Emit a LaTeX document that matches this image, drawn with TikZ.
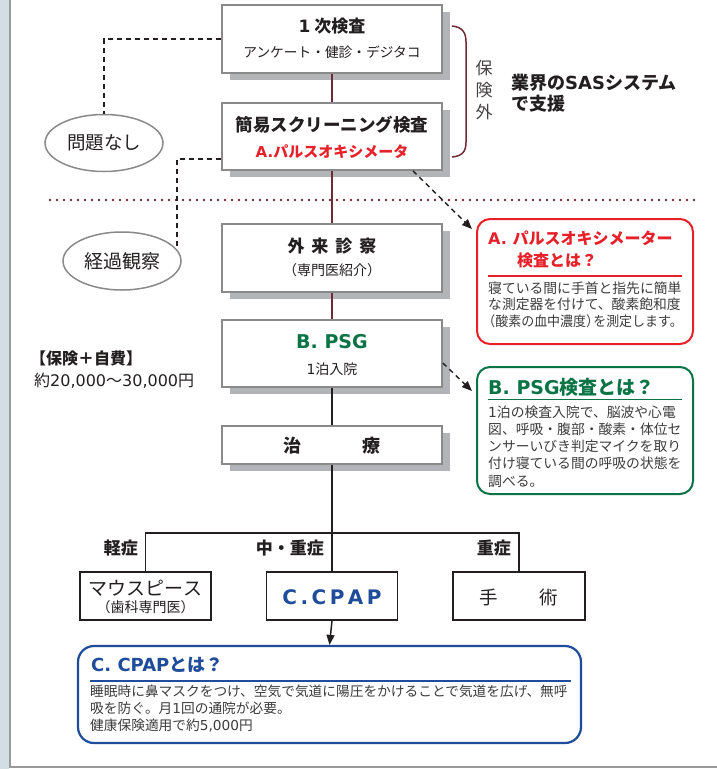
\documentclass[tikz,border=0pt]{standalone}
\usepackage{fontspec}
\setmainfont{Noto Sans CJK JP}
\newfontfamily\lat{DejaVu Sans}
\usetikzlibrary{shapes.geometric,shadows,arrows.meta}
\definecolor{ink}{HTML}{231F20}
\definecolor{boxgrey}{HTML}{8A8A8A}
\definecolor{shade}{HTML}{B2B4B7}
\definecolor{brn}{HTML}{6E2B35}
\definecolor{redA}{HTML}{E8202A}
\definecolor{grnB}{HTML}{0B7446}
\definecolor{bluC}{HTML}{1F4D9B}
\definecolor{strip}{HTML}{D2DEE4}
\definecolor{stripline}{HTML}{9A9A9A}
\definecolor{bodytxt}{HTML}{3C3C3C}
\newcommand{\fsz}[1]{\fontsize{#1}{#1}\selectfont}
\begin{document}
\begin{tikzpicture}[x=1pt,y=-1pt,
  txt/.style={inner sep=0pt, text=ink},
  body/.style={inner sep=0pt, text=bodytxt, anchor=base west, font=\fsz{13.8}},
  mainbox/.style={draw=boxgrey, line width=1.8pt, fill=white, inner sep=0pt, minimum width=220pt,
     drop shadow={shadow xshift=8pt, shadow yshift=-7pt, fill=shade, opacity=1}},
  smallbox/.style={draw=ink, line width=1.5pt, fill=white, inner sep=0pt, minimum height=48pt},
  oval/.style={ellipse, draw=boxgrey, line width=1.5pt, fill=white, inner sep=0pt,
     minimum width=118pt, minimum height=57pt, text=ink, font=\fsz{18.5}},
  infobox/.style={rounded corners=13pt, line width=2pt, fill=white, inner sep=0pt},
  dashln/.style={draw=ink, line width=1.4pt, dash pattern=on 5pt off 4pt},
  tipend/.style={-{Triangle[length=10pt,width=8pt]}},
  conn/.style={line width=1.5pt},
]
\useasboundingbox (0,0) rectangle (717,769);
\fill[white] (0,0) rectangle (717,769);
\fill[strip] (0,0) rectangle (9,769);
\draw[stripline, line width=2pt] (10,0) -- (10,767) -- (717,767);

% dotted separator
\draw[brn, line width=2.6pt, line cap=round, dash pattern=on 0pt off 7pt] (50,200) -- (695,200);

% main boxes
\node[mainbox, minimum height=68pt] (b1) at (332,39) {};
\node[mainbox, minimum height=67pt] (b2) at (332,136.5) {};
\node[mainbox, minimum height=68pt] (b3) at (332,258) {};
\node[mainbox, minimum height=67pt] (b4) at (332,353.5) {};
\node[mainbox, minimum height=38pt] (b5) at (332,445) {};

\node[txt, anchor=base, font=\fsz{17}\bfseries] (b1a) at (332,32.5) {{\lat 1}\hspace{4pt}次検査};
\node[txt, anchor=base, font=\fsz{13.7}] (b1b) at (332,57.2) {アンケート・健診・デジタコ};
\node[txt, anchor=base, font=\fsz{17.5}\bfseries] (b2a) at (332,131.6) {簡易スクリーニング検査};
\node[txt, anchor=base, font=\fsz{15}\bfseries, text=redA] (b2b) at (332,157.7) {{\lat A.}パルスオキシメータ};
\node[txt, anchor=base, font=\fsz{17}\bfseries] (b3a) at (332,252.5) {外\hspace{7pt}来\hspace{7pt}診\hspace{7pt}察};
\node[txt, anchor=base, font=\fsz{14}] (b3b) at (332,275.3) {（専門医紹介）};
\node[txt, anchor=base, font=\fsz{19}\bfseries\lat, text=grnB] (b4a) at (332,348) {B. PSG};
\node[txt, anchor=base, font=\fsz{14}] (b4b) at (332,374.3) {{\lat 1}泊入院};
\node[txt, anchor=base, font=\fsz{18}\bfseries] (b5a) at (332,452.8) {治\hspace{61pt}療};

% bottom boxes
\node[smallbox, minimum width=131pt] (m) at (145.5,596) {};
\node[smallbox, minimum width=131pt] (c) at (332,596) {};
\node[smallbox, minimum width=132pt] (s) at (519,596) {};
\node[txt, anchor=base, font=\fsz{19}] (ma) at (145.5,595.2) {マウスピース};
\node[txt, anchor=base, font=\fsz{14}] (mb) at (145.5,612.3) {（歯科専門医）};
\node[txt, anchor=base, font=\fsz{20}\bfseries\lat, text=bluC] (ca) at (332,604.3) {C\kern3.5pt.\kern3.5ptC\kern3.5ptP\kern3.5ptA\kern3.5ptP};
\node[txt, anchor=base, font=\fsz{18.5}] (sa) at (518.5,604) {手\hspace{41pt}術};

% ovals
\node[oval] (e1) at (104,143) {問題なし};
\node[oval, minimum height=58pt, font=\fsz{19}] (e2) at (122,261) {経過観察};

% connectors
\draw[brn, conn] (b1) -- (b2);
\draw[brn, conn] (b2) -- (b3);
\draw[brn, conn] (b3) -- (b4);
\draw[ink, conn] (b4) -- (b5);
\coordinate (j) at (332,533);
\draw[ink, conn] (b5) -- (j);
\draw[ink, conn] (m.north) -- (m.north |- j) -- (s.north |- j) -- (s.north);
\draw[ink, conn] (j) -- (c.north);

\draw[dashln] (b1.west) -| (e1.north);
\draw[dashln] ([yshift=12pt]b2.south west) -| (e2.12);

% brace and side labels
\draw[brn, line width=1.5pt] (452,26) .. controls (462,27) and (466,32) .. (466,42) -- (466,142) .. controls (466,152) and (462,156) .. (452,157);
\node[txt, font=\fontsize{17}{22}\selectfont, align=center, text=ink!85] (hk) at (484,90) {保\\険\\外};
\node[txt, anchor=base west, font=\fsz{18}\bfseries] (sas1) at (511,89) {業界の{\lat SAS}システム};
\node[txt, anchor=base west, font=\fsz{18}\bfseries] (sas2) at (511,110) {で支援};
\node[txt, anchor=base west, font=\fsz{16}\bfseries] (cost1) at (30,364) {【保険＋自費】};
\node[txt, anchor=base west, font=\fsz{16}] (cost2) at (34,386) {約{\lat 20,000}〜{\lat 30,000}円};

% tree labels
\node[txt, anchor=base east, font=\fsz{17}\bfseries] (l1) at (138,554.5) {軽症};
\node[txt, anchor=base east, font=\fsz{17}\bfseries] (l2) at (324,554.5) {中・重症};
\node[txt, anchor=base east, font=\fsz{17}\bfseries] (l3) at (511,554.5) {重症};

% info box A
\node[infobox, draw=redA, minimum width=216pt, minimum height=125pt] (bA) at (585,281.5) {};
\node[txt, anchor=base west, font=\fsz{16}\bfseries, text=redA] (at1) at (488,244) {{\lat A. }パルスオキシメーター};
\node[txt, anchor=base west, font=\fsz{16}\bfseries, text=redA] (at2) at (517,266) {検査とは？};
\draw[redA, line width=1.8pt] (488,276) -- (682,276);
\node[body] (a1) at (488,293.2) {寝ている間に手首と指先に簡単};
\node[body] (a2) at (488,309.7) {な測定器を付けて、酸素飽和度};
\node[body] (a3) at (488,326.2) {\scalebox{0.94}[1]{\kern-0.45em（酸素の血中濃度）\kern-0.45emを測定します。}};

% info box B
\node[infobox, draw=grnB, minimum width=216pt, minimum height=127pt] (bB) at (585,430.5) {};
\node[txt, anchor=base west, font=\fsz{19}\bfseries, text=grnB] (bt1) at (488,394) {{\lat B. PSG}検査とは？};
\draw[grnB, line width=1.8pt] (488,399.5) -- (682,399.5);
\node[body] (p1) at (488,417.2) {{\lat 1}泊の検査入院で、脳波や心電};
\node[body] (p2) at (488,434.4) {図、呼吸・腹部・酸素・体位セ};
\node[body] (p3) at (488,451.6) {ンサーいびき判定マイクを取り};
\node[body] (p4) at (488,468.8) {付け寝ている間の呼吸の状態を};
\node[body] (p5) at (488,486) {調べる。};

% info box C
\node[infobox, rounded corners=16pt, draw=bluC, line width=2.2pt, minimum width=503pt, minimum height=97pt] (bC) at (329.5,694.5) {};
\node[txt, anchor=base west, font=\fsz{18}\bfseries, text=bluC] (ct1) at (91,671) {{\lat C. CPAP}とは？};
\draw[bluC, line width=1.8pt] (90,681) -- (571,681);
\node[body, font=\fsz{13.7}] (c1) at (90,696) {睡眠時に鼻マスクをつけ、空気で気道に陽圧をかけることで気道を広げ、無呼};
\node[body, font=\fsz{13.7}] (c2) at (90,713) {吸を防ぐ。月{\lat 1}回の通院が必要。};
\node[body, font=\fsz{13.7}] (c3) at (90,730) {健康保険適用で約{\lat 5,000}円};

% arrows
\draw[ink, conn, tipend] (c.south) -- (bC.north);
\draw[dashln, tipend] ([xshift=81pt]b2.south) -- ([xshift=-4pt,yshift=-11pt]bA.north west);
\draw[dashln, tipend] ([yshift=-9.5pt]b4.east) -- ([xshift=-4pt,yshift=-25pt]bB.north west);
\end{tikzpicture}
\end{document}
